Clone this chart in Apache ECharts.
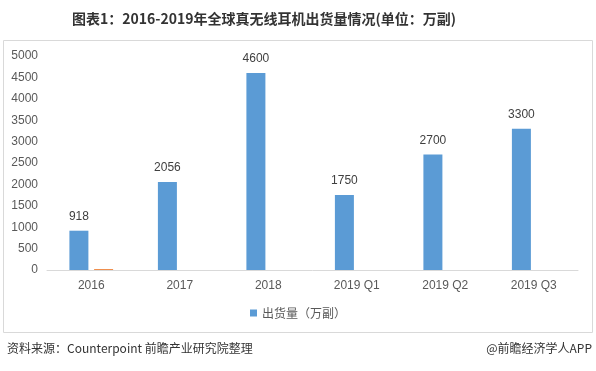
<!DOCTYPE html>
<html><head><meta charset="utf-8">
<script src="https://cdn.jsdelivr.net/npm/echarts@6/dist/echarts.min.js"></script>
<style>html,body{margin:0;padding:0;background:#fff}#c{width:596px;height:371px}</style>
</head><body><div id="c"></div>
<script>
const categories = ['2016','2017','2018','2019 Q1','2019 Q2','2019 Q3'];
const shipments = [918, 2056, 4600, 1750, 2700, 3300];
const secondSeries = [20, null, null, null, null, null];
const yTicks = [0, 500, 5000];
const chart = echarts.init(document.getElementById('c'));
const font = '"Noto Sans CJK SC", "Liberation Sans", sans-serif';
chart.setOption({
  animation: false,
  textStyle: {fontFamily: font},
  title: {
    text: '图表1：2016-2019年全球真无线耳机出货量情况(单位：万副)',
    left: 67, top: 7,
    textStyle: {fontSize: 14, fontWeight: 'bold', color: '#333', fontFamily: font}
  },
  graphic: [
    {type: 'rect', shape: {x: 3.5, y: 40.5, width: 589, height: 292}, style: {fill: 'none', stroke: '#d9d9d9', lineWidth: 1}, silent: true},
    {type: 'text', left: 7, top: 342, style: {text: '资料来源：Counterpoint 前瞻产业研究院整理', fontSize: 12, fill: '#333', fontFamily: font}},
    {type: 'text', right: 4, top: 342, style: {text: '@前瞻经济学人APP', fontSize: 12, fill: '#333', fontFamily: font}}
  ],
  legend: {
    data: [{name: '出货量（万副）', icon: 'rect'}],
    top: 302, left: 'center',
    itemWidth: 7, itemHeight: 7, itemGap: 4,
    textStyle: {fontSize: 12, color: '#595959', fontFamily: font}
  },
  grid: {left: 47, right: 18, top: 56, bottom: 101, containLabel: false},
  xAxis: {
    type: 'category', data: categories,
    axisLine: {lineStyle: {color: '#d9d9d9'}},
    axisTick: {show: false},
    axisLabel: {color: '#595959', fontSize: 12, margin: 10, fontFamily: '"Liberation Sans", sans-serif'}
  },
  yAxis: {
    type: 'value', min: yTicks[0], max: yTicks[2], interval: yTicks[1],
    splitLine: {show: false},
    axisLine: {show: false}, axisTick: {show: false},
    axisLabel: {color: '#595959', fontSize: 12, margin: 9, formatter: v => String(v), fontFamily: '"Liberation Sans", sans-serif'}
  },
  series: [
    {
      name: '出货量（万副）', type: 'bar', data: shipments,
      barWidth: 19, barGap: '30%', barCategoryGap: '50%',
      itemStyle: {color: '#5b9bd5'},
      label: {show: true, position: 'top', distance: 8, color: '#404040', fontSize: 12, fontFamily: '"Liberation Sans", sans-serif'}
    },
    {
      name: 'other', type: 'bar', data: secondSeries,
      barWidth: 19,
      itemStyle: {color: '#ed7d31'}
    }
  ]
});
</script>
</body></html>
